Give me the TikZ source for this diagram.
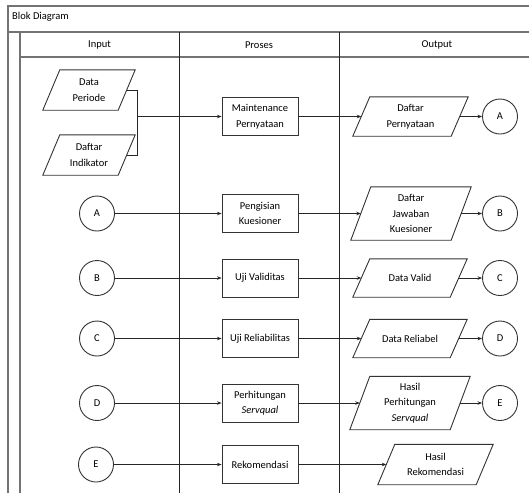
\documentclass[tikz,border=0pt]{standalone}
\usepackage{fontspec}
\setmainfont{Carlito}
\usetikzlibrary{arrows.meta}
\newcommand{\dtxt}{\fontsize{10.5}{15.5}\selectfont}
\begin{document}
\begin{tikzpicture}[x=1pt,y=-1pt,
  frame/.style={draw=black!55, line width=1.6pt},
  lane/.style={draw=black!85, line width=0.9pt},
  proc/.style={draw=black!80, line width=0.9pt, rectangle, minimum width=76pt, minimum height=38pt, inner sep=1pt, align=center, font=\dtxt},
  io/.style={rectangle, inner sep=1pt, align=center, font=\dtxt},
  paraline/.style={draw=black!80, line width=0.9pt, line join=miter},
  conn/.style={draw=black!80, circle, line width=0.9pt, minimum size=35pt, inner sep=0pt, font=\dtxt},
  link/.style={draw=black!85, line width=0.8pt},
  arr/.style={draw=black!85, line width=0.8pt, -{Stealth[length=4.5pt,width=3.5pt]}},
  hdr/.style={font=\dtxt, inner sep=0pt}]
\newcommand{\parash}[2]{\draw[paraline] ([xshift=#2]#1.north west) -- ([xshift=#2]#1.north east) -- ([xshift=-#2]#1.south east) -- ([xshift=-#2]#1.south west) -- cycle;}
\useasboundingbox (0,0) rectangle (529,493);
% frame
\draw[frame] (8,493) -- (8,6) -- (529,6);
\draw[frame] (8,32) -- (529,32);
\draw[frame] (20,493) -- (20,32);
\draw[frame] (20,57) -- (529,57);
\draw[lane] (179,32) -- (179,493);
\draw[lane] (339,32) -- (339,493);
\node[hdr, anchor=west] (title) at (12,17) {Blok Diagram};
\node[hdr] (hin) at (99.5,45) {Input};
\node[hdr] (hpr) at (259,45) {Proses};
\node[hdr] (hout) at (437,45) {Output};
% row 1
\node[io, minimum width=75pt, minimum height=40pt] (dp) at (89,90) {Data\\Periode};
\node[io, minimum width=75pt, minimum height=40pt] (di) at (89,155) {Daftar\\Indikator};
\parash{dp}{8.5pt}
\parash{di}{8.5pt}
\node[proc] (mp) at (260,116.5) {Maintenance\\Pernyataan};
\node[io, minimum width=98pt, minimum height=39pt] (dpy) at (410.5,116.5) {Daftar\\Pernyataan};
\parash{dpy}{8.5pt}
\node[conn] (ra) at (500,116.5) {A};
\coordinate (j) at (137,116.5);
\draw[link] (dp.east) -- (dp.east -| j) -- (di.east -| j) -- (di.east);
\draw[arr] (j) -- (mp);
\draw[arr] (mp) -- (dpy);
\draw[arr] (dpy) -- (ra);
% row 2
\node[conn] (la) at (97,213.5) {A};
\node[proc] (pk) at (260,213.5) {Pengisian\\Kuesioner};
\node[io, minimum width=100pt, minimum height=53pt] (djk) at (411,213.5) {Daftar\\Jawaban\\Kuesioner};
\parash{djk}{10pt}
\node[conn] (rb) at (500,213.5) {B};
\draw[arr] (la) -- (pk);
\draw[arr] (pk) -- (djk);
\draw[arr] (djk) -- (rb);
% row 3
\node[conn] (lb) at (97,278) {B};
\node[proc] (uv) at (260,278) {Uji Validitas};
\node[io, minimum width=97pt, minimum height=38pt] (dv) at (410,278) {Data Valid};
\parash{dv}{8.5pt}
\node[conn] (rc) at (500,278) {C};
\draw[arr] (lb) -- (uv);
\draw[arr] (uv) -- (dv);
\draw[arr] (dv) -- (rc);
% row 4
\node[conn] (lc) at (97,338.5) {C};
\node[proc] (ur) at (260,338.5) {Uji Reliabilitas};
\node[io, minimum width=97pt, minimum height=38pt] (dr) at (410,338.5) {Data Reliabel};
\parash{dr}{8.5pt}
\node[conn] (rd) at (500,338.5) {D};
\draw[arr] (lc) -- (ur);
\draw[arr] (ur) -- (dr);
\draw[arr] (dr) -- (rd);
% row 5
\node[conn] (ld) at (97,403) {D};
\node[proc] (ps) at (260,403) {Perhitungan\\\textit{Servqual}};
\node[io, minimum width=100pt, minimum height=53pt] (hps) at (410,403) {Hasil\\Perhitungan\\\textit{Servqual}};
\parash{hps}{10pt}
\node[conn] (re) at (500,403) {E};
\draw[arr] (ld) -- (ps);
\draw[arr] (ps) -- (hps);
\draw[arr] (hps) -- (re);
% row 6
\node[conn] (le) at (96,464.5) {E};
\node[proc] (rk) at (260,464.5) {Rekomendasi};
\node[io, minimum width=98pt, minimum height=40pt] (hr) at (435.5,464.5) {Hasil\\Rekomendasi};
\parash{hr}{8.5pt}
\draw[arr] (le) -- (rk);
\draw[arr] (rk) -- (hr);
\end{tikzpicture}
\end{document}
